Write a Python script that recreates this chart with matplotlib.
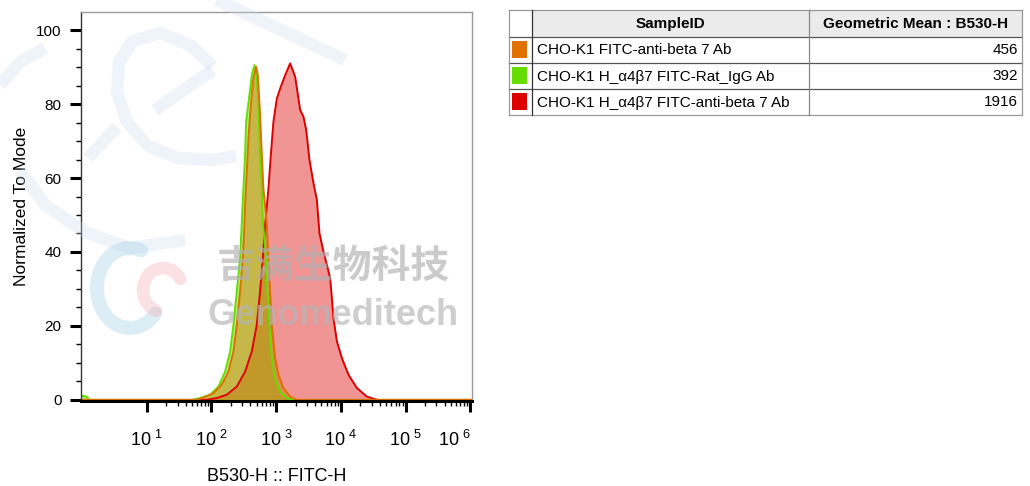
import numpy as np
import matplotlib.pyplot as plt
from matplotlib.patches import Rectangle

plt.rcParams['font.family'] = ['Liberation Sans', 'DejaVu Sans']

# histogram outlines: log10(B530-H) and % of mode
red_log = [-0.03, 1.794, 1.928, 2.083, 2.238, 2.392, 2.520, 2.624, 2.701, 2.752,
           2.794, 2.830, 2.881, 2.918, 2.958, 3.011, 3.062, 3.139, 3.216, 3.294,
           3.371, 3.422, 3.464, 3.515, 3.577, 3.629, 3.669, 3.731, 3.784, 3.835,
           3.861, 3.886, 3.939, 4.016, 4.118, 4.248, 4.402, 4.504, 4.577, 6.05]
red_pct = [0, 0, 0, 0.5, 1.4, 3.6, 7.6, 13.1, 20.3, 29.3,
           38.3, 47.3, 57.2, 66.2, 75.2, 81.5, 84.2, 87.8, 91.0, 87.4,
           78.4, 76.6, 73.0, 64.9, 58.6, 54.1, 45.1, 40.1, 36.5, 32.9,
           27.5, 22.1, 15.8, 11.3, 6.8, 3.2, 0.9, 0.3, 0, 0]

green_log = [-0.03, 0.06, 0.12, 1.696, 1.825, 1.979, 2.108, 2.211, 2.289, 2.340,
             2.392, 2.443, 2.469, 2.494, 2.520, 2.536, 2.556, 2.624, 2.664, 2.701,
             2.726, 2.752, 2.779, 2.794, 2.845, 2.865, 2.896, 2.933, 2.984, 3.062,
             3.165, 3.267, 6.05]
green_pct = [1.1, 1.0, 0, 0, 0.5, 1.4, 3.6, 7.6, 13.1, 20.3,
             29.3, 38.3, 47.8, 57.2, 66.2, 75.2, 77.9, 87.8, 90.5, 87.8,
             79.7, 66.2, 57.2, 48.2, 38.3, 29.3, 20.3, 11.3, 5.9, 2.2,
             0.5, 0, 0]

orange_log = [-0.03, 1.763, 1.876, 2.030, 2.160, 2.262, 2.340, 2.392, 2.443, 2.485,
              2.510, 2.520, 2.547, 2.572, 2.609, 2.649, 2.691, 2.717, 2.752, 2.779,
              2.803, 2.856, 2.881, 2.907, 2.933, 2.984, 3.035, 3.113, 3.216, 3.320,
              6.05]
orange_pct = [0, 0, 0.6, 1.8, 4.1, 7.6, 13.1, 20.3, 29.3, 38.3,
              47.3, 52.7, 61.7, 70.7, 79.7, 87.0, 90.1, 87.8, 77.0, 66.2,
              57.2, 47.3, 38.3, 29.3, 20.3, 11.3, 6.8, 3.2, 0.9, 0,
              0]

# table on the right
sample_ids = ['CHO-K1 FITC-anti-beta 7 Ab',
              'CHO-K1 H_\u03b14\u03b27 FITC-Rat_IgG Ab',
              'CHO-K1 H_\u03b14\u03b27 FITC-anti-beta 7 Ab']
geo_means = [456, 392, 1916]
sample_colors = ['#e07000', '#66dd00', '#dd0000']

x_decades = [1, 2, 3, 4, 5, 6]
y_ticks = [0, 20, 40, 60, 80, 100]

fig = plt.figure(figsize=(10.3, 4.86), dpi=100)
ax = fig.add_axes([81 / 1030, 85 / 486, 391 / 1030, 389 / 486])

# red first, orange on top (as in the picture)
series = [(red_log, red_pct, '#dd0000', 0.42),
          (green_log, green_pct, '#66dd00', 0.5),
          (orange_log, orange_pct, '#e07000', 0.42)]
for logs, pct, col, a in series:
    x = 10 ** np.array(logs)
    ax.fill_between(x, 0, pct, color=col, alpha=a, lw=0)
    ax.plot(x, pct, color=col, lw=1.4)

ax.set_xscale('log')
ax.set_xlim(10 ** -0.015, 10 ** 6.026)
ax.set_ylim(-0.3, 104.9)

ax.set_xticks([10.0 ** d for d in x_decades])
ax.set_xticklabels([r'$\mathregular{10^{\ %d}}$' % d for d in x_decades])
ax.get_xticklabels()[-1].set_horizontalalignment('right')
minors = [k * 10.0 ** d for d in range(1, 6) for k in range(2, 10)]
ax.set_xticks(minors, minor=True)
ax.set_xticklabels([], minor=True)

ax.set_yticks(y_ticks)
ax.set_yticks(np.arange(0, 105, 5), minor=True)

ax.tick_params(axis='both', which='major', length=8, width=2.2, color='black')
ax.tick_params(axis='both', which='minor', length=3.8, width=1, color='black')
ax.tick_params(axis='x', which='major', pad=13, labelsize=13)
ax.tick_params(axis='y', which='major', pad=6, labelsize=11)

for s in ['top', 'right']:
    ax.spines[s].set_color('#999999')
    ax.spines[s].set_linewidth(1)
ax.spines['left'].set_color('#333333')
ax.spines['left'].set_linewidth(1)
ax.spines['bottom'].set_color('black')
ax.spines['bottom'].set_linewidth(2.2)

ax.set_xlabel('B530-H :: FITC-H', fontsize=13, labelpad=13)
ax.set_ylabel('Normalized To Mode', fontsize=12.5, labelpad=5)

# table
tab = fig.add_axes([509 / 1030, 371 / 486, 513 / 1030, 105 / 486])
tab.set_xlim(0, 513)
tab.set_ylim(105, 0)
tab.axis('off')
tab.add_patch(Rectangle((23, 0), 490, 27, facecolor='#ebebeb', edgecolor='none'))
row_edges = [0, 27, 53, 79, 105]
for yy in row_edges:
    c = '#999999' if yy in (0, 105) else '#555555'
    tab.plot([0, 513], [yy, yy], color=c, lw=0.9, clip_on=False)
tab.plot([0, 0], [0, 105], color='#999999', lw=0.9, clip_on=False)
tab.plot([23, 23], [0, 105], color='#333333', lw=0.9, clip_on=False)
tab.plot([300, 300], [0, 105], color='#888888', lw=0.9, clip_on=False)
tab.plot([513, 513], [0, 105], color='#999999', lw=0.9, clip_on=False)

tab.text(161.5, 14, 'SampleID', ha='center', va='center', fontsize=11,
         fontweight='bold')
tab.text(407, 14, 'Geometric Mean : B530-H', ha='center', va='center',
         fontsize=11, fontweight='bold')
for i, (sid, gm, col) in enumerate(zip(sample_ids, geo_means, sample_colors)):
    top = row_edges[i + 1]
    mid = (row_edges[i + 1] + row_edges[i + 2]) / 2
    tab.add_patch(Rectangle((3, top + 4), 15, 17, facecolor=col, edgecolor='none'))
    tab.text(28, mid + 0.5, sid, ha='left', va='center', fontsize=11)
    tab.text(509, mid + 0.5, str(gm), ha='right', va='center', fontsize=11)

# watermark layer over the plot
deco = fig.add_axes([0, 0, 1, 1], zorder=5)
deco.set_xlim(0, 1030)
deco.set_ylim(486, 0)
deco.axis('off')
wm_blue = (0.80, 0.86, 0.95)
strokes = [
    [(217, 0), (345, 60)],
    [(213, 66), (190, 45), (160, 33), (133, 41), (119, 62), (117, 92),
     (127, 122), (148, 146), (178, 158), (212, 160), (236, 156)],
    [(213, 70), (155, 110)],
    [(117, 127), (88, 158)],
    [(45, 48), (20, 62), (0, 85)],
    [(20, 170), (45, 205), (85, 232), (130, 248), (185, 240)],
]
for pts in strokes:
    p = np.array(pts, dtype=float)
    deco.plot(p[:, 0], p[:, 1], color=wm_blue, lw=9, alpha=0.3,
              solid_capstyle='butt', solid_joinstyle='round')
t = np.linspace(np.radians(70), np.radians(320), 60)
deco.plot(130 + 33 * np.cos(t), 288 - 40 * np.sin(t), color=(0.62, 0.80, 0.90),
          lw=10, alpha=0.35, solid_capstyle='round')
t2 = np.linspace(np.radians(30), np.radians(250), 40)
deco.plot(163 + 20 * np.cos(t2), 290 - 22 * np.sin(t2), color=(0.95, 0.62, 0.62),
          lw=9, alpha=0.3, solid_capstyle='round')
deco.text(333, 266, '吉满生物科技', ha='center', va='center', fontsize=28,
          fontweight='bold', family=['Noto Sans CJK SC', 'DejaVu Sans'],
          color='#b0b0b0', alpha=0.65)
deco.text(333, 315, 'Genomeditech', ha='center', va='center', fontsize=26,
          fontweight='bold', color='#b5b5b5', alpha=0.65)

fig.savefig('out.png', dpi=100)
